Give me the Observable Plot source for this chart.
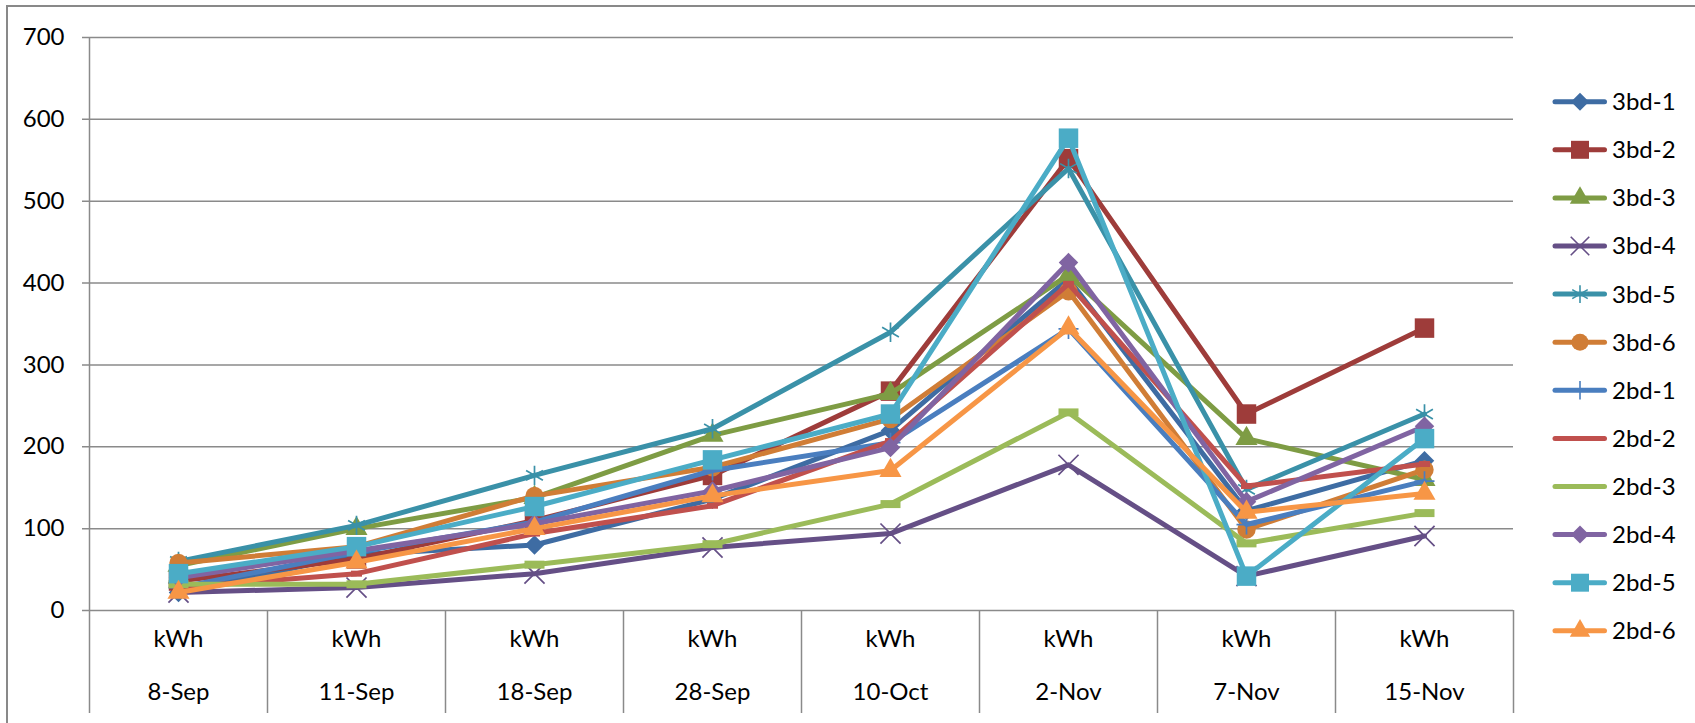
<!DOCTYPE html>
<html><head><meta charset="utf-8">
<script src="https://cdn.jsdelivr.net/npm/d3@7"></script>
<script src="https://cdn.jsdelivr.net/npm/@observablehq/plot@0.6"></script>
<style>
html,body{margin:0;padding:0;background:#fff;overflow:hidden}
#wrap{position:relative;width:1695px;height:723px;background:#fff}
#frame{position:absolute;left:6px;top:5px;width:1700px;height:730px;border-left:2px solid #898989;border-top:2px solid #898989;pointer-events:none}
</style></head><body><div id="wrap"></div>
<script>
// ---- data ----
const dates = ["8-Sep","11-Sep","18-Sep","28-Sep","10-Oct","2-Nov","7-Nov","15-Nov"];
const unitLabel = "kWh";
const yTicks = [0,100,200,300,400,500,600,700];
const seriesNames = ["3bd-1","3bd-2","3bd-3","3bd-4","3bd-5","3bd-6","2bd-1","2bd-2","2bd-3","2bd-4","2bd-5","2bd-6"];
const seriesColors = ["#3E6CA3","#9E3C3A","#7E9C44","#654F86","#3A91A8","#D07D36","#4A7EBF","#C0504D","#9BBB59","#8064A2","#4BACC6","#F79646"];
const v3bd1 = [22, 68, 80, 136, 220, 405, 122, 183];
const v3bd2 = [36, 63, 110, 165, 268, 552, 240, 345];
const v3bd3 = [55, 100, 138, 214, 265, 410, 210, 160];
const v3bd4 = [22, 28, 45, 77, 94, 178, 42, 91];
const v3bd5 = [60, 104, 165, 222, 340, 540, 148, 240];
const v3bd6 = [58, 78, 140, 175, 234, 390, 99, 172];
const v2bd1 = [28, 71, 108, 171, 205, 344, 105, 158];
const v2bd2 = [28, 45, 94, 128, 207, 399, 152, 179];
const v2bd3 = [32, 32, 56, 81, 130, 242, 82, 119];
const v2bd4 = [40, 73, 106, 146, 199, 425, 133, 225];
const v2bd5 = [45, 78, 127, 184, 240, 577, 42, 210];
const v2bd6 = [22, 59, 100, 140, 171, 345, 120, 143];
const seriesValues = [v3bd1,v3bd2,v3bd3,v3bd4,v3bd5,v3bd6,v2bd1,v2bd2,v2bd3,v2bd4,v2bd5,v2bd6];

// ---- marker styles ----
const shortDash = {draw(ctx){ctx.rect(-5.5,-3,11,6);}};
const longDash = {draw(ctx){ctx.rect(-10,-4,20,8);}};
const markers = [
  {symbol:"diamond2", r:8.8, filled:true},
  {symbol:"square", r:11, filled:true},
  {symbol:"triangle", r:8.2, filled:true},
  {symbol:"times", r:9.2, filled:false},
  {symbol:"asterisk", r:9.2, filled:false},
  {symbol:"circle", r:9.2, filled:true},
  {symbol:"plus", r:6.5, filled:false},
  {symbol:shortDash, r:5, filled:true, legend:false},
  {symbol:longDash, r:5, filled:true, legend:false},
  {symbol:"diamond2", r:8.8, filled:true},
  {symbol:"square", r:11, filled:true},
  {symbol:"triangle", r:8.2, filled:true}
];

const bounds = dates.map((d,i)=>i+0.5);
const gridColor = "#8a8a8a";

const marks = [
  Plot.ruleY(yTicks, {y:d=>d, stroke:gridColor, strokeWidth:1.5, insetLeft:-7}),
  Plot.ruleX([-0.5], {x:d=>d, stroke:gridColor, strokeWidth:1.5, insetBottom:-103}),
  Plot.ruleX(bounds, {x:d=>d, y1:0, y2:0, stroke:gridColor, strokeWidth:1.5, insetBottom:-103}),
  Plot.axisY(yTicks, {tickSize:0, tickPadding:25, fontSize:24, fill:"#000", label:null}),
  Plot.text(dates, {x:(d,i)=>i, frameAnchor:"bottom", dy:36, text:()=>unitLabel, fontSize:24, fill:"#000"}),
  Plot.text(dates, {x:(d,i)=>i, frameAnchor:"bottom", dy:89, text:d=>d, fontSize:24, fill:"#000"})
];

seriesNames.forEach((name, s) => {
  const rows = seriesValues[s].map((v,i)=>({i, v, name}));
  const c = seriesColors[s];
  const m = markers[s];
  marks.push(Plot.line(rows, {x:"i", y:"v", stroke:c, strokeWidth:5, strokeLinejoin:"round", strokeLinecap:"round"}));
  marks.push(Plot.dot(rows, {x:"i", y:"v", symbol:m.symbol, r:m.r,
    fill: m.filled ? c : "none", stroke: m.filled ? "none" : c, strokeWidth: m.filled ? 0 : 1.7}));
});

const chart = Plot.plot({
  width:1695, height:723,
  marginLeft:89, marginRight:182, marginTop:37, marginBottom:113,
  x:{domain:[-0.5, dates.length-0.5], axis:null},
  y:{domain:[0,700], axis:null},
  style:{fontFamily:"Lato, 'Open Sans', sans-serif", fontSize:"24px", background:"transparent", color:"#000", overflow:"visible"},
  marks
});
const wrap = document.getElementById("wrap");
chart.style.position = "absolute"; chart.style.left = "0"; chart.style.top = "0";
wrap.appendChild(chart);
const frame = document.createElement("div"); frame.id = "frame"; wrap.appendChild(frame);

// ---- legend ----
const symMap = {diamond2:d3.symbolDiamond2, square:d3.symbolSquare, triangle:d3.symbolTriangle, times:d3.symbolTimes, asterisk:d3.symbolAsterisk, circle:d3.symbolCircle, plus:d3.symbolPlus};
const lg = d3.select(wrap).append("svg").attr("width",1695).attr("height",723)
  .style("position","absolute").style("left","0").style("top","0")
  .style("font-family","Lato, 'Open Sans', sans-serif").style("font-size","24px");
seriesNames.forEach((name, s) => {
  const y = 101.7 + s*48.1;
  const c = seriesColors[s];
  const m = markers[s];
  const g = lg.append("g").attr("transform",`translate(0,${y})`);
  g.append("line").attr("x1",1555).attr("x2",1604.5).attr("y1",0).attr("y2",0)
    .attr("stroke",c).attr("stroke-width",5).attr("stroke-linecap","round");
  if (m.legend !== false) {
    g.append("path").attr("transform","translate(1580,0)")
      .attr("d", d3.symbol().type(symMap[m.symbol]).size(m.r*m.r*Math.PI*0.85)())
      .attr("fill", m.filled ? c : "none").attr("stroke", m.filled ? "none" : c).attr("stroke-width",1.6);
  }
  g.append("text").attr("x",1612).attr("y",0).attr("dy","0.35em").attr("fill","#000").text(name);
});
</script></body></html>
